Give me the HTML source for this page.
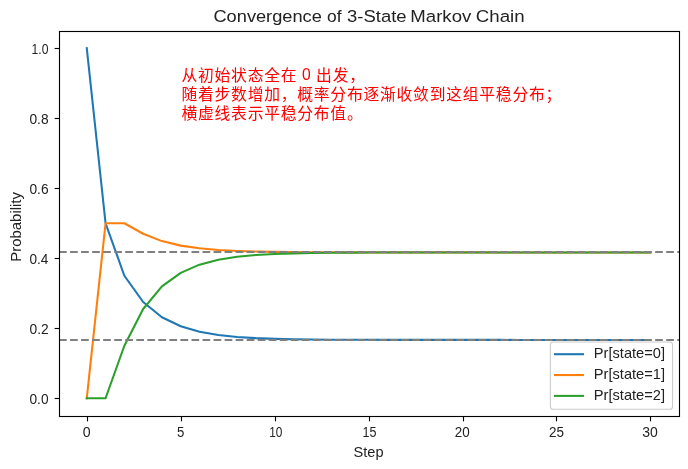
<!DOCTYPE html><html><head><meta charset="utf-8"><title>Convergence of 3-State Markov Chain</title><style>html,body{margin:0;padding:0;background:#fff}</style></head><body><svg width="688" height="469" viewBox="0 0 688 469" style="display:block;font-family:'Liberation Sans', 'Noto Sans CJK SC', sans-serif;font-kerning:none">
<rect width="688" height="469" fill="#fff"/>
<clipPath id="c"><rect x="59.5" y="31.5" width="620.0" height="385.0"/></clipPath>
<polyline clip-path="url(#c)" points="86.78,48.25 105.57,223.25 124.36,275.75 143.15,302.00 161.93,317.23 180.72,326.31 199.51,331.75 218.30,335.02 237.08,336.98 255.87,338.15 274.66,338.86 293.45,339.28 312.24,339.54 331.02,339.69 349.81,339.78 368.60,339.83 387.39,339.87 406.18,339.89 424.96,339.90 443.75,339.91 462.54,339.91 481.33,339.91 500.12,339.91 518.90,339.92 537.69,339.92 556.48,339.92 575.27,339.92 594.05,339.92 612.84,339.92 631.63,339.92 650.42,339.92" fill="none" stroke="#1f77b4" stroke-width="2.08" stroke-linejoin="round" stroke-linecap="square"/>
<polyline clip-path="url(#c)" points="86.78,398.25 105.57,223.25 124.36,223.25 143.15,233.75 161.93,241.10 180.72,245.62 199.51,248.33 218.30,249.97 237.08,250.95 255.87,251.53 274.66,251.89 293.45,252.10 312.24,252.23 331.02,252.30 349.81,252.35 368.60,252.38 387.39,252.39 406.18,252.40 424.96,252.41 443.75,252.41 462.54,252.41 481.33,252.41 500.12,252.42 518.90,252.42 537.69,252.42 556.48,252.42 575.27,252.42 594.05,252.42 612.84,252.42 631.63,252.42 650.42,252.42" fill="none" stroke="#ff7f0e" stroke-width="2.08" stroke-linejoin="round" stroke-linecap="square"/>
<polyline clip-path="url(#c)" points="86.78,398.25 105.57,398.25 124.36,345.75 143.15,309.00 161.93,286.43 180.72,272.83 199.51,264.66 218.30,259.76 237.08,256.83 255.87,255.06 274.66,254.00 293.45,253.37 312.24,252.99 331.02,252.76 349.81,252.62 368.60,252.54 387.39,252.49 406.18,252.46 424.96,252.44 443.75,252.43 462.54,252.43 481.33,252.42 500.12,252.42 518.90,252.42 537.69,252.42 556.48,252.42 575.27,252.42 594.05,252.42 612.84,252.42 631.63,252.42 650.42,252.42" fill="none" stroke="#2ca02c" stroke-width="2.08" stroke-linejoin="round" stroke-linecap="square"/>
<line x1="59" x2="679" y1="340" y2="340" stroke="#808080" stroke-width="2.08" stroke-dasharray="7.71 3.33"/>
<line x1="59" x2="679" y1="252" y2="252" stroke="#808080" stroke-width="2.08" stroke-dasharray="7.71 3.33"/>
<line x1="87.5" x2="87.5" y1="416.5" y2="421.36" stroke="#000" stroke-width="1.11"/>
<text transform="translate(82.70,437.10) scale(1.0015,1)" font-size="14.1" fill="#222">0</text>
<line x1="181.5" x2="181.5" y1="416.5" y2="421.36" stroke="#000" stroke-width="1.11"/>
<text transform="translate(176.97,437.10) scale(0.9349,1)" font-size="14.1" fill="#222">5</text>
<line x1="275.5" x2="275.5" y1="416.5" y2="421.36" stroke="#000" stroke-width="1.11"/>
<text transform="translate(269.30,437.10) scale(0.8393,1)" font-size="14.1" fill="#222">10</text>
<line x1="369.5" x2="369.5" y1="416.5" y2="421.36" stroke="#000" stroke-width="1.11"/>
<text transform="translate(362.54,437.10) scale(0.8917,1)" font-size="14.1" fill="#222">15</text>
<line x1="463.5" x2="463.5" y1="416.5" y2="421.36" stroke="#000" stroke-width="1.11"/>
<text transform="translate(454.82,437.10) scale(0.9533,1)" font-size="14.1" fill="#222">20</text>
<line x1="556.5" x2="556.5" y1="416.5" y2="421.36" stroke="#000" stroke-width="1.11"/>
<text transform="translate(549.07,437.10) scale(0.9560,1)" font-size="14.1" fill="#222">25</text>
<line x1="650.5" x2="650.5" y1="416.5" y2="421.36" stroke="#000" stroke-width="1.11"/>
<text transform="translate(642.22,437.10) scale(0.9934,1)" font-size="14.1" fill="#222">30</text>
<line x1="54.64" x2="59.5" y1="398.50" y2="398.50" stroke="#000" stroke-width="1.11"/>
<text transform="translate(29.46,403.65) scale(0.9730,1)" font-size="14.1" fill="#222">0.0</text>
<line x1="54.64" x2="59.5" y1="328.50" y2="328.50" stroke="#000" stroke-width="1.11"/>
<text transform="translate(29.46,333.65) scale(0.9814,1)" font-size="14.1" fill="#222">0.2</text>
<line x1="54.64" x2="59.5" y1="258.50" y2="258.50" stroke="#000" stroke-width="1.11"/>
<text transform="translate(29.47,263.65) scale(0.9658,1)" font-size="14.1" fill="#222">0.4</text>
<line x1="54.64" x2="59.5" y1="188.50" y2="188.50" stroke="#000" stroke-width="1.11"/>
<text transform="translate(29.46,193.65) scale(0.9766,1)" font-size="14.1" fill="#222">0.6</text>
<line x1="54.64" x2="59.5" y1="118.50" y2="118.50" stroke="#000" stroke-width="1.11"/>
<text transform="translate(29.46,123.65) scale(0.9763,1)" font-size="14.1" fill="#222">0.8</text>
<line x1="54.64" x2="59.5" y1="48.50" y2="48.50" stroke="#000" stroke-width="1.11"/>
<text transform="translate(31.57,53.65) scale(0.8623,1)" font-size="14.1" fill="#222">1.0</text>
<rect x="59.5" y="31.5" width="620.0" height="385.0" fill="none" stroke="#000" stroke-width="1.11"/>
<text transform="translate(213.47,21.80) scale(1.0723,1)" font-size="17.0" fill="#222">Convergence</text>
<text transform="translate(327.07,21.80) scale(1.0231,1)" font-size="17.0" fill="#222">of</text>
<text transform="translate(347.10,21.80) scale(1.0860,1)" font-size="17.0" fill="#222">3-State</text>
<text transform="translate(410.37,21.80) scale(1.0943,1)" font-size="17.0" fill="#222">Markov</text>
<text transform="translate(475.75,21.80) scale(1.1001,1)" font-size="17.0" fill="#222">Chain</text>
<text transform="translate(353.59,456.75) scale(1.0207,1)" font-size="14.3" fill="#222">Step</text>
<text transform="translate(20.75,261.73) rotate(-90) scale(1.0448,1)" font-size="14.3" fill="#222">Probability</text>
<text x="181.45" y="80.90" font-size="15.8" letter-spacing="0.75" fill="#ff0000">从初始状态全在</text>
<text transform="translate(301.89,80.10) scale(0.9017,1)" font-size="17.4" fill="#ff0000">0</text>
<text x="316.10" y="80.90" font-size="15.8" letter-spacing="0.75" fill="#ff0000">出发，</text>
<text x="181.45" y="100.00" font-size="15.8" letter-spacing="0.75" fill="#ff0000">随着步数增加，概率分布逐渐收敛到这组平稳分布；</text>
<text x="181.45" y="119.10" font-size="15.8" letter-spacing="0.75" fill="#ff0000">横虚线表示平稳分布值。</text>
<rect x="550.4" y="342.0" width="122.16" height="67.30" rx="2.8" fill="#fff" fill-opacity="0.8" stroke="#ccc" stroke-width="1.11"/>
<line x1="555.04" x2="582.96" y1="354.20" y2="354.20" stroke="#1f77b4" stroke-width="2.08" stroke-linecap="square"/>
<text transform="translate(593.80,358.30) scale(1.0244,1)" font-size="14.3" fill="#222">Pr[state=0]</text>
<line x1="555.04" x2="582.96" y1="375.05" y2="375.05" stroke="#ff7f0e" stroke-width="2.08" stroke-linecap="square"/>
<text transform="translate(593.80,379.15) scale(1.0244,1)" font-size="14.3" fill="#222">Pr[state=1]</text>
<line x1="555.04" x2="582.96" y1="395.90" y2="395.90" stroke="#2ca02c" stroke-width="2.08" stroke-linecap="square"/>
<text transform="translate(593.80,400.00) scale(1.0244,1)" font-size="14.3" fill="#222">Pr[state=2]</text>
</svg></body></html>
